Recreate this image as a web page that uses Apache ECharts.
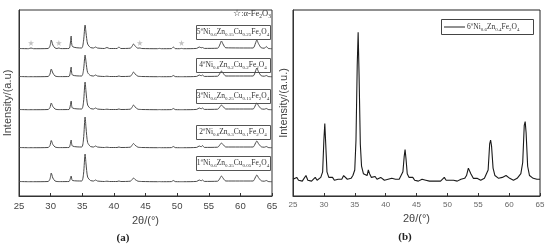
<!DOCTYPE html>
<html>
<head>
<meta charset="utf-8">
<script src="https://cdn.jsdelivr.net/npm/echarts@6/dist/echarts.min.js"></script>
<style>
  html, body { margin: 0; padding: 0; background: #fff; }
  #chart { width: 550px; height: 248px; }
</style>
</head>
<body>
<div id="chart"></div>
<script>
// (a) five stacked patterns, same 2θ grid for all of them
const leftTheta = [25, 26.5, 26.9, 27.3, 29.6, 29.9, 30.1, 30.35, 30.7, 31.0, 31.3, 31.6, 32.9, 33.1, 33.25, 33.45,
  34.9, 35.2, 35.45, 35.6, 35.85, 36.3, 36.8, 37.1, 37.4, 38.5, 38.9, 39.3, 40.5, 40.8, 41.1, 42.6, 42.9, 43.1,
  43.35, 43.8, 44.1, 44.4, 46.9, 47.2, 47.5, 49.1, 49.4, 49.7, 50.4, 50.7, 51.0, 53.1, 53.5, 53.8, 54.0, 54.3,
  56.4, 56.8, 57.0, 57.25, 57.7, 62.0, 62.4, 62.6, 62.85, 63.3, 63.8, 64.1, 64.4, 65]

// intensity above each pattern's own baseline
const sample1 = [0.5, 0.3, 0.3, 0.3, 0.5, 3, 9, 4, 1, 0.5, 0.4, 0.4, 0.5, 3, 6, 1.5,
  1, 8, 28, 18, 5, 1.5, 1, 2, 1, 0.5, 0.8, 0.5, 0.5, 1, 0.5, 0.8, 2.5, 4,
  2.5, 0.8, 0.6, 0.5, 0.3, 0.4, 0.3, 0.4, 1.5, 0.4, 0.3, 0.3, 0.3, 0.6, 2, 1.2, 2, 0.6,
  0.8, 4, 6, 4, 1, 1, 5, 7, 4.5, 1.2, 0.8, 1.5, 0.5, 0.3]
const sample2 = [0.5, 0.3, 0.3, 0.3, 0.5, 2.5, 7.5, 3.5, 1, 0.5, 0.4, 0.4, 0.5, 3.5, 8, 2,
  1, 9, 31, 20, 5.5, 1.5, 1, 2, 1, 0.5, 0.8, 0.5, 0.5, 1, 0.5, 0.8, 3, 4.5,
  2.8, 0.8, 0.6, 0.5, 0.3, 0.4, 0.3, 0.4, 1.5, 0.4, 0.3, 0.3, 0.3, 0.6, 2, 1.2, 2.5, 0.6,
  0.8, 3.5, 5, 3.5, 1, 1, 5, 7, 4.5, 1.2, 0.8, 1.5, 0.5, 0.3]
const sample3 = [0.5, 0.3, 0.3, 0.3, 0.5, 2.5, 7, 3.5, 1, 0.5, 0.4, 0.4, 0.5, 4, 9, 2,
  1, 8, 28, 18, 5, 1.5, 1, 2, 1, 0.5, 0.8, 0.5, 0.5, 1, 0.5, 0.8, 3, 5,
  3, 0.8, 0.6, 0.5, 0.3, 0.4, 0.3, 0.4, 1.5, 0.4, 0.3, 0.3, 0.3, 0.6, 2, 1.2, 2, 0.6,
  0.8, 3.5, 5, 3.5, 1, 1, 5, 7, 4.5, 1.2, 0.8, 1.5, 0.5, 0.3]
const sample4 = [0.5, 0.3, 0.3, 0.3, 0.5, 3, 8, 4, 1, 0.5, 0.4, 0.4, 0.5, 4.5, 10, 2,
  1, 7, 22, 15, 4.5, 1.5, 1, 2, 1, 0.5, 0.8, 0.5, 0.5, 1, 0.5, 0.8, 3, 5,
  3, 0.8, 0.6, 0.5, 0.3, 0.4, 0.3, 0.4, 1.5, 0.4, 0.3, 0.3, 0.3, 0.6, 2, 1.2, 2, 0.6,
  0.8, 4, 6, 4, 1, 1, 6, 9, 5.5, 1.2, 0.8, 1.5, 0.5, 0.3]
const sample5 = [0.5, 0.3, 1, 0.3, 0.5, 3, 9, 4, 1, 0.5, 1, 0.4, 0.5, 5, 13, 2.5,
  1, 8, 24, 16, 5, 1.5, 1, 2, 1, 0.5, 1.5, 0.5, 0.5, 2, 0.5, 0.8, 3, 5,
  3, 0.8, 1, 0.5, 0.3, 0.6, 0.3, 0.4, 2, 0.4, 0.3, 0.6, 0.3, 0.6, 2, 1.2, 1.5, 0.6,
  0.8, 5, 8, 5, 1.2, 1, 6, 9, 5.5, 1.2, 0.8, 2.5, 0.6, 0.3]
const baselines = [14, 48, 86, 119, 147]
const sampleNames = ['1#', '2#', '3#', '4#', '5#']

// α-Fe2O3 markers on pattern 5#
const starTheta = [26.9, 31.3, 44.1, 50.7]
const starLevel = [153, 153, 153, 153]

// (b) single pattern 6#
const rightTheta = [25.0, 25.3, 25.6, 25.9, 26.2, 26.5, 26.8, 27.1, 27.4, 27.7, 28.0, 28.3, 28.6, 28.9, 29.2, 29.5,
  29.8, 30.0, 30.15, 30.3, 30.5, 30.8, 31.1, 31.4, 31.7, 32.0, 32.3, 32.6, 32.9, 33.2, 33.5, 33.8, 34.1, 34.4,
  34.7, 35.0, 35.2, 35.4, 35.55, 35.7, 35.9, 36.1, 36.4, 36.7, 37.0, 37.2, 37.4, 37.7, 38.0, 38.3, 38.6, 38.9,
  39.2, 39.5, 39.8, 40.1, 40.4, 40.7, 41.0, 41.3, 41.6, 41.9, 42.2, 42.5, 42.8, 43.0, 43.15, 43.3, 43.5, 43.8,
  44.1, 44.4, 44.7, 45.0, 45.3, 45.6, 45.9, 46.2, 46.5, 46.8, 47.1, 47.4, 47.7, 48.0, 48.3, 48.6, 48.9, 49.2,
  49.5, 49.8, 50.1, 50.4, 50.7, 51.0, 51.3, 51.6, 51.9, 52.2, 52.5, 52.8, 53.1, 53.4, 53.6, 53.8, 54.0, 54.2,
  54.5, 54.8, 55.1, 55.4, 55.7, 56.0, 56.3, 56.6, 56.85, 57.0, 57.15, 57.4, 57.7, 58.0, 58.3, 58.6, 58.9, 59.2,
  59.5, 59.8, 60.1, 60.4, 60.7, 61.0, 61.3, 61.6, 61.9, 62.2, 62.45, 62.6, 62.75, 63.0, 63.3, 63.6, 63.9, 64.2,
  64.5, 64.8, 65.0]
const rightIntensity = [9, 8, 10, 8.5, 9.5, 8, 9, 11, 8.5, 9.5, 8, 9, 10, 8.5, 9, 10,
  13, 30, 39, 28, 13, 10, 9, 10, 8.5, 9.5, 9, 10, 9, 11, 10.5, 9, 10, 9.5,
  11, 14, 30, 70, 88, 65, 28, 16, 12, 13, 11, 14, 12, 10, 9, 10.5, 9, 8.5,
  10, 9, 8.5, 9.5, 9, 8, 9.5, 10.5, 9, 8.5, 9, 10, 13, 21, 25, 20, 12, 10,
  9, 10, 8.5, 9, 8, 8.5, 9, 8, 8.5, 7.5, 8, 8.5, 8, 7.5, 8, 8.5, 8, 8.5,
  10, 8.5, 8, 8.5, 8, 8.5, 9, 8, 8.5, 9, 8.5, 9.5, 11, 15, 16, 12, 13, 9.5,
  9, 9.5, 9, 8.5, 9, 9.5, 10, 14, 28, 30, 27, 15, 11, 10, 9.5, 9, 10, 9.5,
  11, 10, 9.5, 9, 8.5, 9, 9.5, 10, 12, 18, 38, 40, 34, 16, 11, 10, 9.5, 10,
  9, 8.5, 9]

const xTicks = { min: 25, max: 65, interval: 5 }

// formula labels, rich text tokens
const leftLabels = [
  '{n|1}{sup|#}{n|Ni}{sub|0.6}{n|Zn}{sub|0.35}{n|Cu}{sub|0.05}{n|Fe}{sub|2}{n|O}{sub|4}',
  '{n|2}{sup|#}{n|Ni}{sub|0.6}{n|Zn}{sub|0.3}{n|Cu}{sub|0.1}{n|Fe}{sub|2}{n|O}{sub|4}',
  '{n|3}{sup|#}{n|Ni}{sub|0.6}{n|Zn}{sub|0.25}{n|Cu}{sub|0.15}{n|Fe}{sub|2}{n|O}{sub|4}',
  '{n|4}{sup|#}{n|Ni}{sub|0.6}{n|Zn}{sub|0.2}{n|Cu}{sub|0.2}{n|Fe}{sub|2}{n|O}{sub|4}',
  '{n|5}{sup|#}{n|Ni}{sub|0.6}{n|Zn}{sub|0.15}{n|Cu}{sub|0.25}{n|Fe}{sub|2}{n|O}{sub|4}'
]
const labelBoxTop = [156, 125, 89, 58, 25]

const richStyle = {
  n: { fontFamily: 'Liberation Serif', fontSize: 7.5, lineHeight: 10, fill: '#333', verticalAlign: 'middle' },
  sub: { fontFamily: 'Liberation Serif', fontSize: 5, lineHeight: 10, fill: '#333', verticalAlign: 'bottom' },
  sup: { fontFamily: 'Liberation Serif', fontSize: 5, lineHeight: 10, fill: '#333', verticalAlign: 'top' },
  big: { fontFamily: 'Liberation Serif', fontSize: 8.5, lineHeight: 11, fill: '#333', verticalAlign: 'middle' },
  bigsub: { fontFamily: 'Liberation Serif', fontSize: 5.5, lineHeight: 11, fill: '#333', verticalAlign: 'bottom' }
}

const chart = echarts.init(document.getElementById('chart'), null, { renderer: 'canvas' })

function makeX (gridIndex, labelSize, labelColor) {
  return {
    type: 'value',
    gridIndex: gridIndex,
    min: xTicks.min,
    max: xTicks.max,
    interval: xTicks.interval,
    name: '2θ/(°)',
    nameLocation: 'middle',
    nameGap: 16,
    nameTextStyle: { fontFamily: 'Liberation Sans', fontSize: 11, color: '#444' },
    axisLine: { show: true, lineStyle: { color: '#333', width: 1 } },
    axisTick: { show: true, inside: true, length: 3, lineStyle: { color: '#333' } },
    axisLabel: { fontFamily: 'Liberation Sans', fontSize: labelSize, color: labelColor, margin: 5 },
    splitLine: { show: false }
  }
}

function makeY (gridIndex, max, name, gap) {
  return {
    type: 'value',
    gridIndex: gridIndex,
    min: 0,
    max: max,
    name: name,
    nameLocation: 'middle',
    nameGap: gap,
    nameTextStyle: { fontFamily: 'Liberation Sans', fontSize: 11, color: '#444' },
    axisLine: { show: true, lineStyle: { color: '#333', width: 1 } },
    axisTick: { show: false },
    axisLabel: { show: false },
    splitLine: { show: false }
  }
}

const samples = [sample1, sample2, sample3, sample4, sample5]
const leftSeries = samples.map((s, i) => {
  return {
    type: 'line',
    name: sampleNames[i],
    xAxisIndex: 0,
    yAxisIndex: 0,
    showSymbol: false,
    silent: true,
    smooth: 0.25,
    lineStyle: { color: '#4a4a4a', width: 1 },
    data: leftTheta.map((t, k) => [t, baselines[i] + s[k]])
  }
})

const graphics = []
labelBoxTop.forEach((top, i) => {
  graphics.push({
    type: 'rect',
    shape: { x: 196.5, y: top + 0.5, width: 74, height: 14 },
    style: { fill: '#fff', stroke: '#555', lineWidth: 1 }
  })
  graphics.push({
    type: 'text',
    style: {
      x: 233, y: top + 7.5, text: leftLabels[i], align: 'center', verticalAlign: 'middle', rich: richStyle
    }
  })
})
graphics.push({
  type: 'text',
  style: {
    x: 271, y: 14, align: 'right', verticalAlign: 'middle',
    text: '{big|☆:α-Fe}{bigsub|2}{big|O}{bigsub|3}', rich: richStyle
  }
})
// legend of (b)
graphics.push({
  type: 'rect',
  shape: { x: 441.5, y: 19.5, width: 92, height: 15 },
  style: { fill: '#fff', stroke: '#444', lineWidth: 1 }
})
graphics.push({
  type: 'line',
  shape: { x1: 444, y1: 27, x2: 465, y2: 27 },
  style: { stroke: '#222', lineWidth: 1 }
})
graphics.push({
  type: 'text',
  style: {
    x: 467, y: 27, align: 'left', verticalAlign: 'middle',
    text: '{n|6}{sup|#}{n|Ni}{sub|0.6}{n|Zn}{sub|0.4}{n|Fe}{sub|2}{n|O}{sub|4}', rich: richStyle
  }
})
graphics.push({
  type: 'text',
  style: { x: 123, y: 238, text: '(a)', align: 'center', verticalAlign: 'middle', font: 'bold 11px "Liberation Serif"', fill: '#222' }
})
graphics.push({
  type: 'text',
  style: { x: 405, y: 237, text: '(b)', align: 'center', verticalAlign: 'middle', font: 'bold 11px "Liberation Serif"', fill: '#222' }
})

const option = {
  animation: false,
  backgroundColor: '#fff',
  grid: [
    { left: 19, top: 10, width: 253, height: 186, show: true, borderColor: '#333', borderWidth: 1 },
    { left: 293, top: 10, width: 247, height: 186, show: true, borderColor: '#222', borderWidth: 1 }
  ],
  xAxis: [makeX(0, 9.5, '#444'), makeX(1, 8, '#666')],
  yAxis: [makeY(0, 186, 'Intensity/(a.u)', 6), makeY(1, 100, 'Intensity/(a.u.)', 4)],
  series: leftSeries.concat([
    {
      type: 'scatter',
      name: 'α-Fe2O3',
      xAxisIndex: 0,
      yAxisIndex: 0,
      silent: true,
      symbol: 'path://M50,0 L61,35 L98,35 L68,57 L79,91 L50,70 L21,91 L32,57 L2,35 L39,35 Z',
      symbolSize: 6,
      itemStyle: { color: '#b0b0b0' },
      data: starTheta.map((t, i) => [t, starLevel[i]])
    },
    {
      type: 'line',
      name: '6#',
      xAxisIndex: 1,
      yAxisIndex: 1,
      showSymbol: false,
      silent: true,
      lineStyle: { color: '#1a1a1a', width: 1.1 },
      data: rightTheta.map((t, k) => [t, rightIntensity[k]])
    }
  ]),
  graphic: graphics
}

chart.setOption(option)
</script>
</body>
</html>
